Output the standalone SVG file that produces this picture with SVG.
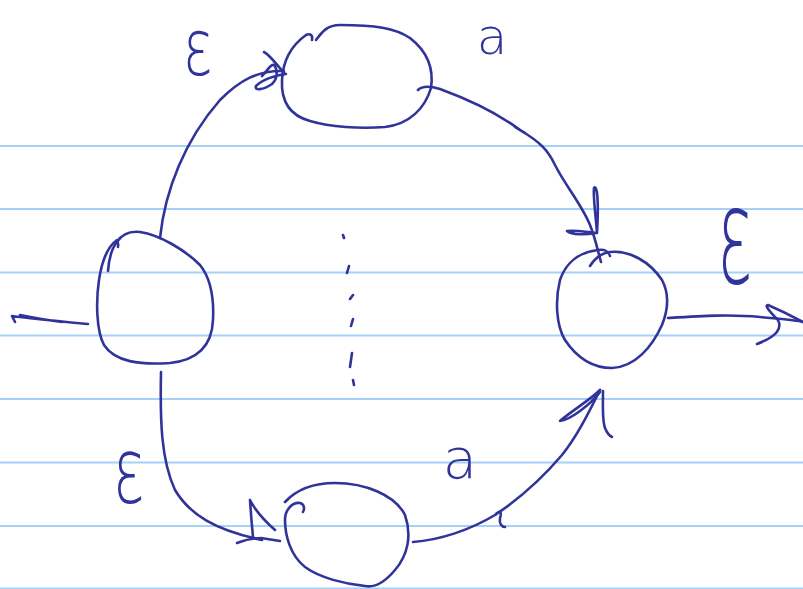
<svg xmlns="http://www.w3.org/2000/svg" width="803" height="589" viewBox="0 0 803 589">
<style>
.rule{stroke:#a6d0f7;stroke-width:2;fill:none}
.ink{stroke:#30349a;stroke-width:2.6;fill:none;stroke-linecap:round;stroke-linejoin:round}
.lbl{fill:#30349a;font-family:"DejaVu Sans","Liberation Sans",sans-serif;font-weight:200}
</style>
<rect width="803" height="589" fill="#ffffff"/>
<g id="paper">
<line class="rule" x1="0" y1="146" x2="803" y2="146"/>
<line class="rule" x1="0" y1="209" x2="803" y2="209"/>
<line class="rule" x1="0" y1="272.5" x2="803" y2="272.5"/>
<line class="rule" x1="0" y1="335.5" x2="803" y2="335.5"/>
<line class="rule" x1="0" y1="399" x2="803" y2="399"/>
<line class="rule" x1="0" y1="462.5" x2="803" y2="462.5"/>
<line class="rule" x1="0" y1="526" x2="803" y2="526"/>
<line class="rule" x1="0" y1="588.5" x2="803" y2="588.5"/>
</g>
<g id="node-top">
<path class="ink" d="M312,40 C313,35 310,33 306,35 C292,45 283,60 282,80 C281,100 288,115 310,121 C330,127 360,129 385,127 C410,124 425,108 431,88 C434,68 428,52 410,38 C395,28 375,25 340,25 C327,25 322,32 316,40"/>
</g>
<g id="node-left">
<path class="ink" d="M117,242 C122,234 130,231 140,232 C160,235 185,250 200,265 C212,280 214,300 213,320 C212,345 198,360 170,363 C140,365 115,362 104,345 C96,330 96,300 99,280 C102,260 107,247 117,240"/>
<path class="ink" d="M108,271 C109,258 112,248 117,242 C119,243 118,246 118,247"/>
</g>
<g id="node-right">
<path class="ink" d="M590,266 C595,258 602,253 610,252 C630,250 650,262 662,280 C670,295 668,310 662,325 C652,347 635,367 612,368 C590,368 575,355 565,340 C556,325 555,300 560,280 C566,262 580,252 598,250 C605,249 609,252 610,256"/>
</g>
<g id="node-bottom">
<path class="ink" d="M285,502 C298,488 315,483 335,483 C365,483 395,495 405,515 C412,535 408,555 395,570 C385,582 375,588 365,586 C345,584 320,578 305,567 C290,555 285,535 285,520 C285,510 292,502 300,503 C304,504 305,508 303,512"/>
</g>
<g id="connectors">
<path class="ink" d="M160,238 C165,190 185,140 220,100 C240,80 258,70 284,71"/>
<path class="ink" d="M264,52 C270,55 276,64 285,74 M286,74 C275,75 262,80 256,86 C254,91 263,90 272,84 C277,79 278,73 275,66 C272,62 268,70 262,76"/>
<path class="ink" d="M418,90 C422,86 430,86 440,89 C470,100 500,115 520,130 C540,142 548,150 555,165 C565,185 582,205 590,225 C596,240 598,252 601,262"/>
<path class="ink" d="M515,127 L525,133"/>
<path class="ink" d="M596,233 C586,232 575,230 567,231 C572,235 585,235 596,233 M597,233 C596,218 593,198 594,188 C597,184 599,200 597,233"/>
<path class="ink" d="M161,372 C160,420 161,460 175,490 C190,515 215,530 262,540"/>
<path class="ink" d="M250,500 C251,515 252,527 253,537 M250,500 C256,512 266,522 275,530 M237,543 C245,540 252,538 261,538 L280,541"/>
<path class="ink" d="M413,542 C440,540 470,530 495,515 C525,495 545,475 562,455 C578,435 590,410 600,390"/>
<path class="ink" d="M496,514 C500,510 502,512 500,518 C499,524 502,527 505,527"/>
<path class="ink" d="M600,390 C590,400 570,412 560,421 C570,420 590,405 600,392 M603,391 C603,405 602,420 605,428 C607,433 610,436 612,437"/>
<path class="ink" d="M88,324 C70,322 40,320 12,316 M62,322 C45,320 30,317 20,315 M12,316 L15,322"/>
<path class="ink" d="M668,318 C700,316 730,314 760,317 C780,319 795,320 803,322"/>
<path class="ink" d="M803,322 C790,315 775,308 768,305 C764,305 770,312 778,320 C782,328 778,336 757,344"/>
</g>
<g id="dots">
<path class="ink" d="M343,235 L344,238 M349,266 L347,273 M353,295 L350,299 M353,319 L351,326 M352,353 L350,367 M353,380 L354,385"/>
</g>
<g id="labels">
<text class="lbl" x="198" y="75" font-size="78" text-anchor="middle" transform="translate(198,0) scale(0.72,1) translate(-198,0)">ε</text>
<text class="lbl" x="492" y="54" font-size="50" text-anchor="middle">a</text>
<text class="lbl" x="735" y="267" font-size="76" text-anchor="middle" transform="translate(735,246) scale(0.88,1.75) translate(-735,-246)">ε</text>
<text class="lbl" x="129" y="494.7" font-size="60" text-anchor="middle" transform="translate(129,478) scale(1,1.5) translate(-129,-478)">ε</text>
<text class="lbl" x="460" y="478" font-size="56" text-anchor="middle">a</text>
</g>
</svg>
